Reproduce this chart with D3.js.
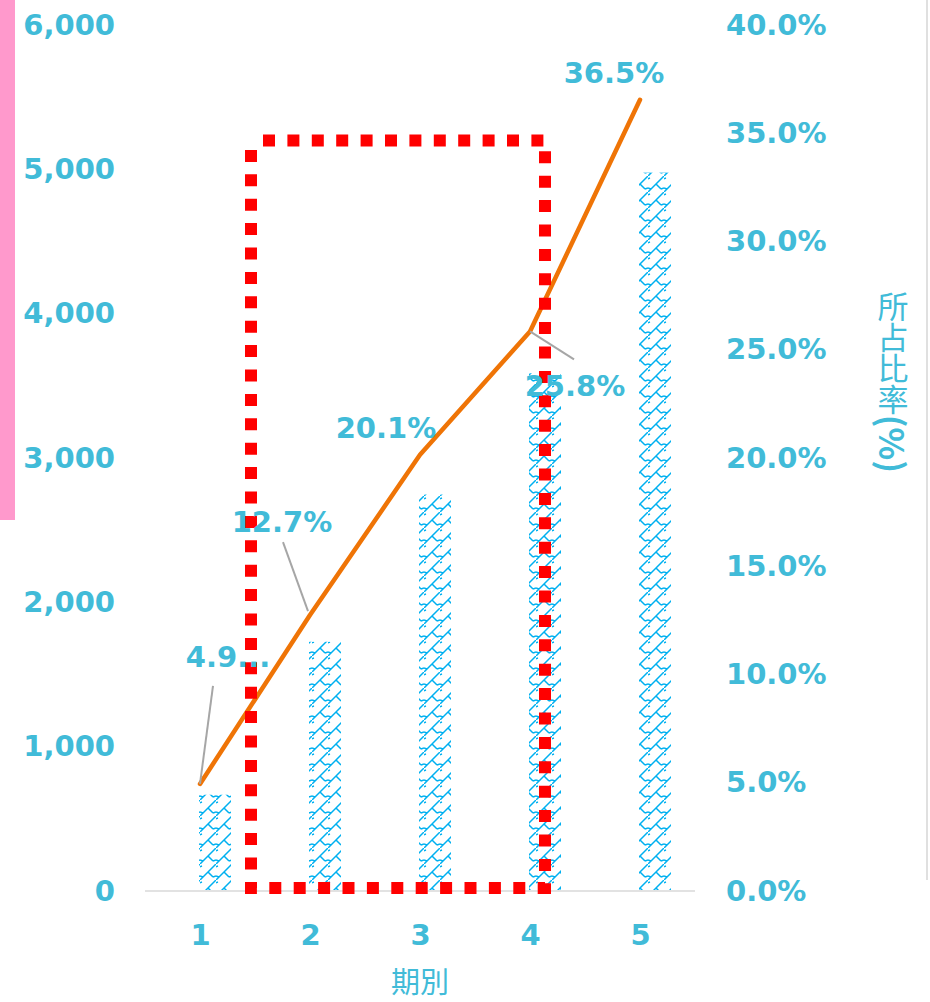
<!DOCTYPE html>
<html>
<head>
<meta charset="utf-8">
<script src="https://cdn.jsdelivr.net/npm/d3@7"></script>
<style>
	body { margin: 0; background: #fff; }
	svg { display: block; }
</style>
</head>
<body>
<svg></svg>
<script>
// chart values
const categories = [1, 2, 3, 4, 5]
const counts = [660, 1720, 2740, 3580, 4970]
const shares = [0.049, 0.127, 0.201, 0.258, 0.365]
const labelTexts = ['4.9...', '12.7%', '20.1%', '25.8%', '36.5%']
const leftTicks = [0, 1000, 2000, 3000, 4000, 5000, 6000]
const rightTicks = [0, 0.05, 0.1, 0.15, 0.2, 0.25, 0.3, 0.35, 0.4]
const xTitle = '期別'
const yTitleMain = '所占比率'
const yTitleUnit = '(%)'

const width = 930,
	height = 1002,
	plotTop = 24,
	plotBottom = 890,
	teal = '#41BBD8',
	numSize = 29,
	numFont = '"DejaVu Sans", Verdana, sans-serif',
	cjkFont = '"Noto Sans CJK TC", "Noto Sans CJK JP", sans-serif'

const svg = d3.select('svg')
	.attr('width', width)
	.attr('height', height)

// hatch pattern for the bars
const defs = svg.append('defs')
const pat = defs.append('pattern')
	.attr('id', 'hatch')
	.attr('patternUnits', 'userSpaceOnUse')
	.attr('width', 16)
	.attr('height', 16)
	.attr('x', 200)
	.attr('y', 0)
pat.append('path')
	.attr('d', 'M-2,18 L18,-2 M8,8 L13,13 M13,13 L16,12 M0,12 L3,13 M3,13 L0,16 M-4,4 L2,2')
	.attr('stroke', '#00B0F0')
	.attr('stroke-width', 1.5)
	.attr('fill', 'none')

const x = d3.scalePoint()
	.domain(categories)
	.range([200, 640])

const yLeft = d3.scaleLinear()
	.domain([0, 6000])
	.range([plotBottom, plotTop])

const yRight = d3.scaleLinear()
	.domain([0, 0.4])
	.range([plotBottom, plotTop])

// pink strip on the left and grey frame line on the right
svg.append('rect')
	.attr('x', 0).attr('y', 0)
	.attr('width', 15).attr('height', 520)
	.attr('fill', '#FF99CC')
svg.append('line')
	.attr('x1', 927).attr('x2', 927)
	.attr('y1', 0).attr('y2', 880)
	.attr('stroke', '#e0e0e0')
	.attr('stroke-width', 2)

function styleNums(g) {
	g.select('.domain').remove()
	g.selectAll('text')
		.attr('fill', teal)
		.attr('font-family', numFont)
		.attr('font-weight', 'bold')
		.attr('font-size', numSize)
		.attr('dy', '0.35em')
}

// left axis
svg.append('g')
	.attr('transform', 'translate(115,0)')
	.call(d3.axisLeft(yLeft)
		.tickValues(leftTicks)
		.tickFormat(d3.format(','))
		.tickSize(0)
		.tickPadding(0))
	.call(styleNums)

// right axis
svg.append('g')
	.attr('transform', 'translate(726,0)')
	.call(d3.axisRight(yRight)
		.tickValues(rightTicks)
		.tickFormat(d3.format('.1%'))
		.tickSize(0)
		.tickPadding(0))
	.call(styleNums)

// bars
svg.append('g')
	.selectAll('rect')
	.data(counts)
	.enter()
	.append('rect')
	.attr('x', (d, i) => x(categories[i]) - 1)
	.attr('y', d => yLeft(d))
	.attr('width', 32)
	.attr('height', d => plotBottom - yLeft(d))
	.attr('fill', 'url(#hatch)')

// x axis baseline
svg.append('line')
	.attr('x1', 145).attr('x2', 695)
	.attr('y1', plotBottom + 1).attr('y2', plotBottom + 1)
	.attr('stroke', '#d9d9d9')
	.attr('stroke-width', 1.5)

svg.append('g')
	.attr('transform', 'translate(0,935)')
	.call(d3.axisBottom(x)
		.tickSize(0)
		.tickPadding(0))
	.call(styleNums)

// line series
const line = d3.line()
	.x((d, i) => x(categories[i]))
	.y(d => yRight(d))

svg.append('path')
	.datum(shares)
	.attr('d', line)
	.attr('fill', 'none')
	.attr('stroke', '#EF7406')
	.attr('stroke-width', 4.5)
	.attr('stroke-linejoin', 'round')
	.attr('stroke-linecap', 'round')

// leader lines for the labels (offsets from the point)
const leaders = [
	[[13, -98], [0, 0]],
	[[-27, -73], [-2, -4]],
	null,
	[[0, 0], [44, 28]],
	null
]
leaders.forEach((l, i) => {
	if (!l) return
	const px = x(categories[i]), py = yRight(shares[i])
	svg.append('line')
		.attr('x1', px + l[0][0]).attr('y1', py + l[0][1])
		.attr('x2', px + l[1][0]).attr('y2', py + l[1][1])
		.attr('stroke', '#a6a6a6')
		.attr('stroke-width', 2)
})

// red dotted box
svg.append('rect')
	.attr('x', 251).attr('y', 140.5)
	.attr('width', 294).attr('height', 747.5)
	.attr('fill', 'none')
	.attr('stroke', '#FF0000')
	.attr('stroke-width', 12)
	.attr('stroke-dasharray', '12 12.4')
	.attr('stroke-dashoffset', -12)

// data labels
const labelOffsets = [[28, -127], [-28, -93], [-34, -27], [45, 54], [-26, -27]]
svg.append('g')
	.selectAll('text')
	.data(shares)
	.enter()
	.append('text')
	.attr('x', (d, i) => x(categories[i]) + labelOffsets[i][0])
	.attr('y', (d, i) => yRight(d) + labelOffsets[i][1])
	.attr('dy', '0.35em')
	.attr('text-anchor', 'middle')
	.attr('fill', teal)
	.attr('font-family', numFont)
	.attr('font-weight', 'bold')
	.attr('font-size', numSize)
	.text((d, i) => labelTexts[i])

// axis titles
svg.append('text')
	.attr('x', 420)
	.attr('y', 983)
	.attr('dy', '0.35em')
	.attr('text-anchor', 'middle')
	.attr('fill', teal)
	.attr('font-family', cjkFont)
	.attr('font-size', 29)
	.text(xTitle)

const yt = svg.append('text')
	.attr('x', 893)
	.attr('y', 382)
	.attr('text-anchor', 'middle')
	.style('writing-mode', 'vertical-rl')
	.style('text-orientation', 'mixed')
	.attr('fill', teal)
	.attr('font-family', cjkFont)
	.attr('font-size', 31)
yt.append('tspan').text(yTitleMain)
yt.append('tspan').attr('font-weight', 'bold').attr('font-size', 34).text(yTitleUnit)
</script>
</body>
</html>
